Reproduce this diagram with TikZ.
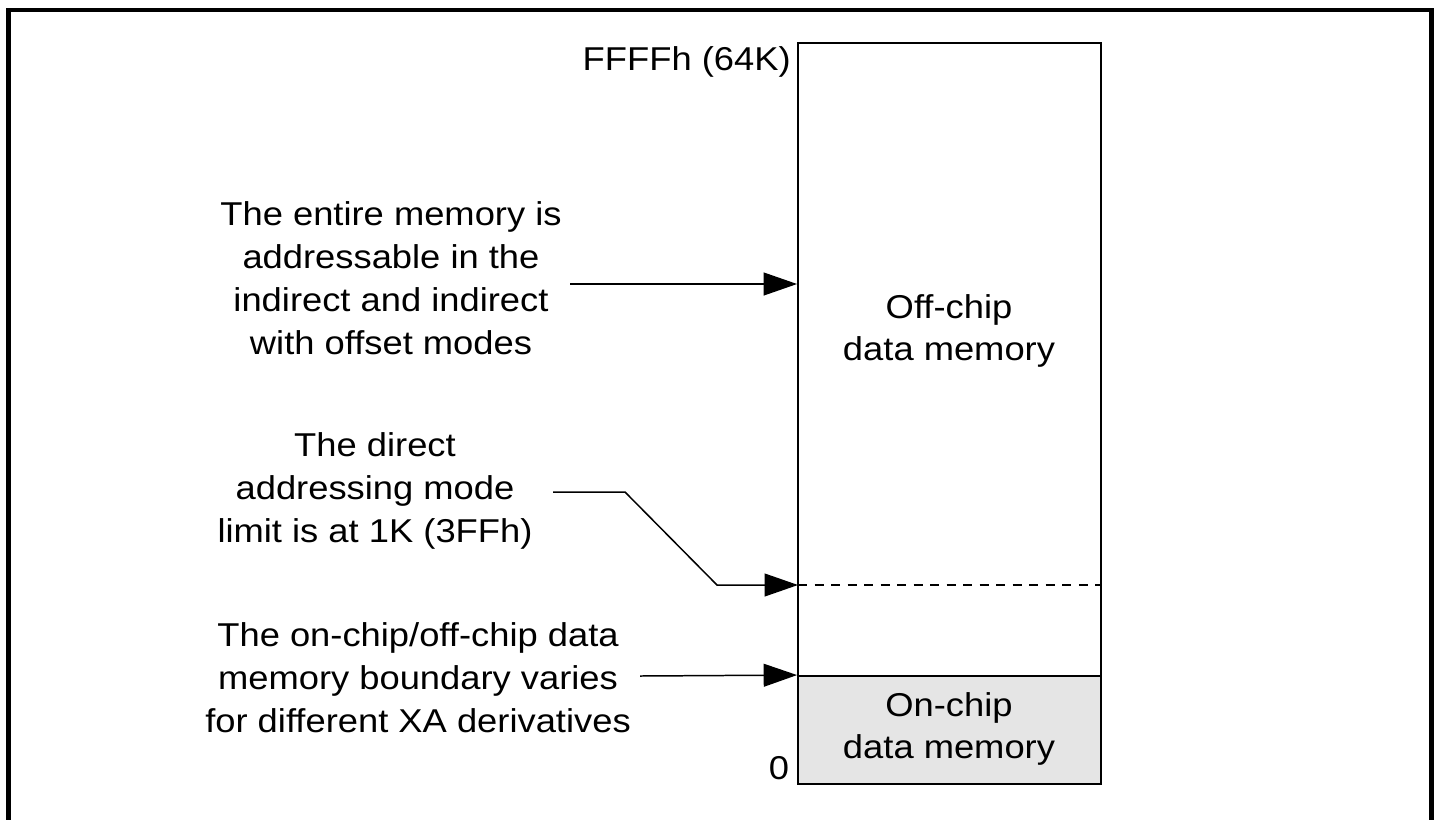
\documentclass[tikz,border=0pt]{standalone}
\usepackage{fontspec}
\setmainfont{Liberation Sans}[FakeStretch=1.1]
\usetikzlibrary{arrows.meta}

\tikzset{
    note/.style={align=center, inner sep=0pt, font=\fontsize{18.8}{24.4}\selectfont},
    ptr/.style={black, line width=0.85pt, -{Triangle[length=19pt, width=13pt]}},
    membox/.style={draw=black, line width=1.1pt, inner sep=0pt},
}

\begin{document}
\begin{tikzpicture}[x=0.02cm, y=-0.02cm]
        \useasboundingbox (0,0) rectangle (1447,819);
        \clip (0,0) rectangle (1447,819);
        \draw[black, line width=2.8pt] (8.5,10) rectangle (1431.5,900);

        \node[membox, fill=gray!20, minimum width=6.06cm, minimum height=2.16cm] (onchip) at (949.5,730) {};
        \node[membox, minimum width=6.06cm, minimum height=12.66cm] (offchip) at (949.5,359.5) {};

        \coordinate (limit) at (798,585);
        \draw[black, line width=0.85pt, dash pattern=on 5.2pt off 4.2pt] (limit) -- (limit -| offchip.east);

        \node[note] (offtext) at (949,331) {Off-chip\\data memory};
        \node[note] (ontext) at (949,729) {On-chip\\data memory};
        \node[note, anchor=east] (maxaddr) at (791,62) {FFFFh (64K)};
        \node[note] (zero) at (779,768) {0};

        \node[note] (entire) at (391,278) {The entire memory is\\addressable in the\\indirect and indirect\\with offset modes};
        \node[note] (direct) at (375,491) {The direct\\addressing mode\\limit is at 1K (3FFh)};
        \node[note] (boundary) at (418,678) {The on-chip/off-chip data\\memory boundary varies\\for different XA derivatives};

        \coordinate (s1) at (570,284);
        \coordinate (s2) at (553,492);
        \coordinate (s3) at (640,676);
        \draw[ptr] (s1) -- (s1 -| offchip.west);
        \draw[ptr] (s2) -- ++(72,0) -- (717,585) -- (limit);
        \draw[ptr] (s3) -- (onchip.north west);
\end{tikzpicture}
\end{document}
